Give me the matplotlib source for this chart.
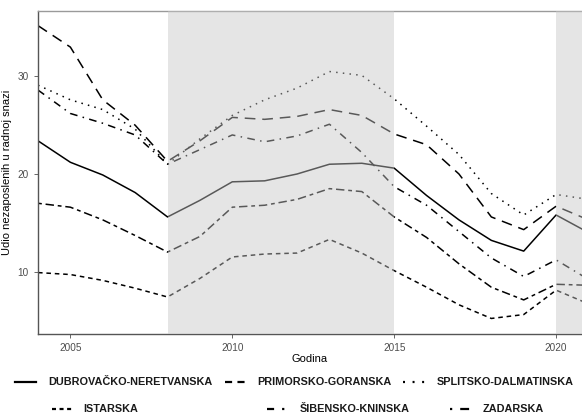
import matplotlib.pyplot as plt
from matplotlib.lines import Line2D

plt.rcParams['font.family'] = ['Liberation Sans', 'DejaVu Sans']

# Stopa nezaposlenosti po županijama (%)
godine = list(range(2004, 2022))
dubrovacko = [23.4, 21.2, 19.9, 18.1, 15.6, 17.3, 19.2, 19.3, 20.0, 21.0, 21.1, 20.6,
              17.8, 15.3, 13.2, 12.1, 15.8, 14.0]
primorsko = [35.2, 33.0, 27.6, 25.0, 21.3, 23.4, 25.8, 25.6, 25.9, 26.6, 26.0, 24.1,
             23.0, 20.0, 15.6, 14.3, 16.7, 15.3]
splitsko = [29.1, 27.6, 26.6, 24.6, 21.0, 23.6, 26.0, 27.6, 28.8, 30.5, 30.1, 27.7,
            24.9, 22.0, 18.0, 15.8, 17.9, 17.4]
istarska = [9.9, 9.7, 9.1, 8.3, 7.4, 9.3, 11.5, 11.8, 11.9, 13.3, 11.9, 10.1,
            8.4, 6.6, 5.2, 5.6, 8.1, 6.7]
sibensko = [28.6, 26.2, 25.2, 24.0, 21.0, 22.5, 24.0, 23.3, 23.9, 25.1, 22.2, 18.7,
            16.8, 14.1, 11.4, 9.5, 11.2, 9.2]
zadarska = [17.0, 16.6, 15.3, 13.7, 12.0, 13.6, 16.6, 16.8, 17.4, 18.5, 18.2, 15.6,
            13.5, 10.8, 8.4, 7.1, 8.7, 8.6]

zupanije = ['DUBROVAČKO-NERETVANSKA', 'PRIMORSKO-GORANSKA', 'SPLITSKO-DALMATINSKA',
            'ISTARSKA', 'ŠIBENSKO-KNINSKA', 'ZADARSKA']
serije = [dubrovacko, primorsko, splitsko, istarska, sibensko, zadarska]
# uzorci crta na grafu i u legendi (legenda ima deblje, kraće crte)
crte = ['-', (0, (7, 4.5)), (0, (1, 3.4)),
        (0, (3, 2.5)), (0, (5, 3.5, 1, 3.5)), (0, (2.5, 2.5, 5.5, 2.5))]
crte_leg = ['-', (0, (3.2, 2.4)), (0, (0.9, 3.4)),
            (0, (1.8, 1.6)), (0, (3.2, 3.6, 1, 5)), (0, (1, 3.6, 4, 5))]

# razdoblja krize (sivo)
razdoblja = [(2008, 2015), (2020, 2022)]

fig = plt.figure(figsize=(5.82, 4.15), dpi=100)
ax = fig.add_axes([0.0653, 0.195, 0.9347, 0.7785])

for vrijednosti, stil in zip(serije, crte):
    ax.plot(godine, vrijednosti, color='black', lw=1.1, linestyle=stil, zorder=2)

for od, do in razdoblja:
    ax.axvspan(od, do, color='#c7c7c7', alpha=0.45, lw=0, zorder=3)

ax.set_xlim(2004, 2020.8)
ax.set_ylim(3.6, 36.7)
ax.set_xticks([2005, 2010, 2015, 2020])
ax.set_yticks([10, 20, 30])
ax.tick_params(colors='#4d4d4d', labelsize=7.2, length=3, width=0.6,
               labelcolor='#4d4d4d')
for strana in ['left', 'bottom']:
    ax.spines[strana].set_color('#555555')
    ax.spines[strana].set_linewidth(1.0)
ax.spines['top'].set_color('#9a9a9a')
ax.spines['top'].set_linewidth(1.0)
ax.spines['right'].set_visible(False)

ax.set_xlabel('Godina', fontsize=8, labelpad=1)
ax.set_ylabel('Udio nezaposlenih u radnoj snazi', fontsize=8, labelpad=4)

# legenda u dva reda ispod grafa
W, H = 582, 415
stavke = [
    (15, 36, 48, 382),
    (225, 245, 257, 382),
    (403, 425, 437, 382),
    (52, 72, 83, 409),
    (267, 285, 300, 409),
    (450, 470, 483, 409),
]
for naziv, stil, (x0, x1, xt, y) in zip(zupanije, crte_leg, stavke):
    fig.add_artist(Line2D([x0 / W, x1 / W], [1 - y / H, 1 - y / H],
                          color='black', lw=1.6, linestyle=stil))
    fig.text(xt / W, 1 - y / H, naziv, fontsize=7.8, fontweight='bold',
             color='#1a1a1a', va='center', ha='left')

fig.savefig('out.png', dpi=100)
